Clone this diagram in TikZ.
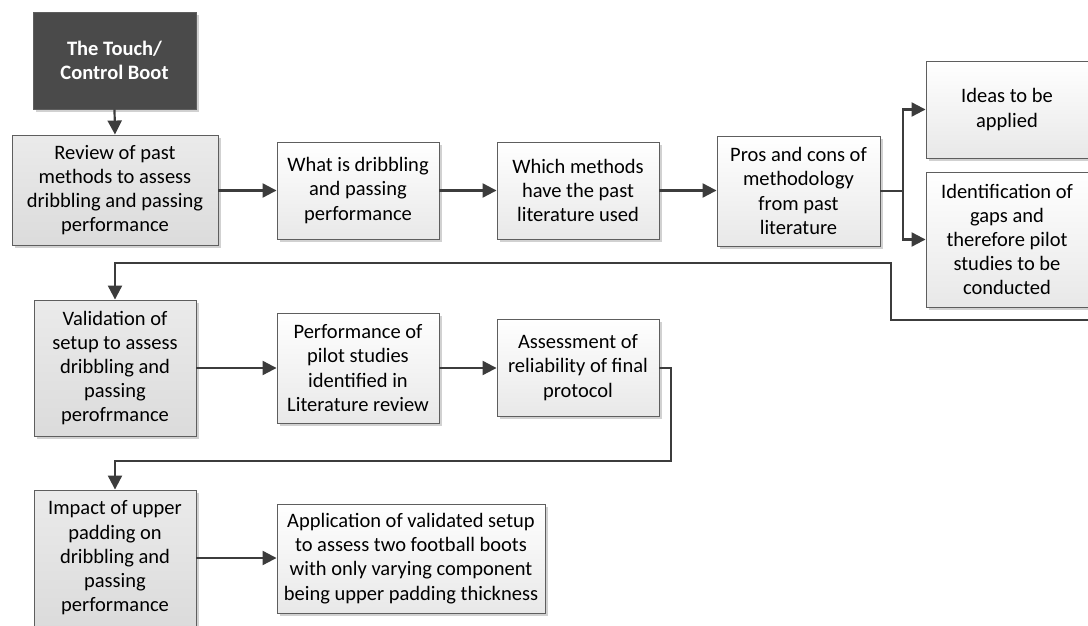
\documentclass[tikz,border=0pt]{standalone}
\usepackage{fontspec}
\setmainfont{Carlito}
\usetikzlibrary{arrows.meta,shadows,calc}
\definecolor{linegray}{HTML}{3C3C3C}
\definecolor{edgegray}{HTML}{5E5E5E}
\definecolor{darkfill}{HTML}{4A4A4A}
\tikzset{
  box/.style={draw=edgegray, line width=0.9pt, rectangle, align=center,
    inner sep=0pt, text=black,
    font=\fontsize{20.5}{24.2}\selectfont,
    drop shadow={shadow xshift=3pt, shadow yshift=-3pt, fill=black!18, opacity=1}},
  lightbox/.style={box, top color=white, bottom color=black!9},
  greybox/.style={box, top color=black!8, bottom color=black!14},
  darkbox/.style={box, fill=darkfill, text=white, font=\fontsize{20.5}{24.2}\selectfont\bfseries},
  flow/.style={draw=linegray, line width=2.2pt, -{Triangle[length=14pt,width=14pt]}},
  plain/.style={draw=linegray, line width=2.2pt},
}
\begin{document}
\begin{tikzpicture}[x=1pt,y=-1pt]
\useasboundingbox (0,0) rectangle (1088,626);
\clip (0,0) rectangle (1088,626);

% nodes, top row
\node[darkbox, minimum width=163pt, minimum height=97pt] (touch) at (114.5,60.5) {The Touch/\\Control Boot};
\node[greybox, minimum width=206pt, minimum height=110pt] (review) at (115,190) {Review of past\\methods to assess\\dribbling and passing\\performance};
\node[lightbox, minimum width=162pt, minimum height=97pt] (what) at (358,190.5) {What is dribbling\\and passing\\performance};
\node[lightbox, minimum width=162pt, minimum height=97pt] (which) at (578,190.5) {Which methods\\have the past\\literature used};
\node[lightbox, minimum width=163pt, minimum height=110pt] (pros) at (798.5,191) {Pros and cons of\\methodology\\from past\\literature};
\node[lightbox, minimum width=162pt, minimum height=97pt] (ideas) at (1007,109.5) {Ideas to be\\applied};
\node[lightbox, minimum width=162pt, minimum height=135pt] (ident) at (1007,239.5) {Identification of\\gaps and\\therefore pilot\\studies to be\\conducted};

% middle row
\node[greybox, minimum width=162pt, minimum height=136pt] (valid) at (115,368) {Validation of\\setup to assess\\dribbling and\\passing\\perofrmance};
\node[lightbox, minimum width=162pt, minimum height=110pt] (perf) at (358,368) {Performance of\\pilot studies\\identified in\\Literature review};
\node[lightbox, minimum width=162pt, minimum height=97pt] (assess) at (578,367.5) {Assessment of\\reliability of final\\protocol};

% bottom row
\node[greybox, minimum width=162pt, minimum height=136pt] (impact) at (115,558) {Impact of upper\\padding on\\dribbling and\\passing\\performance};
\node[lightbox, minimum width=268pt, minimum height=109pt] (app) at (411,558.5) {Application of validated setup\\to assess two football boots\\with only varying component\\being upper padding thickness};

% routing points
\coordinate (split) at (903,191);
\coordinate (offedge) at (1095,320);
\coordinate (turnA) at (891,320);
\coordinate (turnB) at (891,263);
\coordinate (turnC) at (671,368);
\coordinate (turnD) at (671,461);

% connectors
\draw[flow] (touch.south) -- (review.north);
\draw[flow] (review.east |- what.west) -- (what.west);
\draw[flow] (what.east) -- (which.west);
\draw[flow] (which.east) -- (pros.west |- which.east);
\draw[plain] (pros.east) -- (split);
\draw[flow] (split) |- (ideas.west);
\draw[flow] (split) |- (ident.west);
\draw[flow] (offedge) -- (turnA) -- (turnB) -| (valid.north);
\draw[flow] (valid.east) -- (perf.west);
\draw[flow] (perf.east) -- (assess.west |- perf.east);
\draw[flow] (assess.east |- turnC) -- (turnC) -- (turnD) -| (impact.north);
\draw[flow] (impact.east) -- (app.west |- impact.east);
\end{tikzpicture}
\end{document}
